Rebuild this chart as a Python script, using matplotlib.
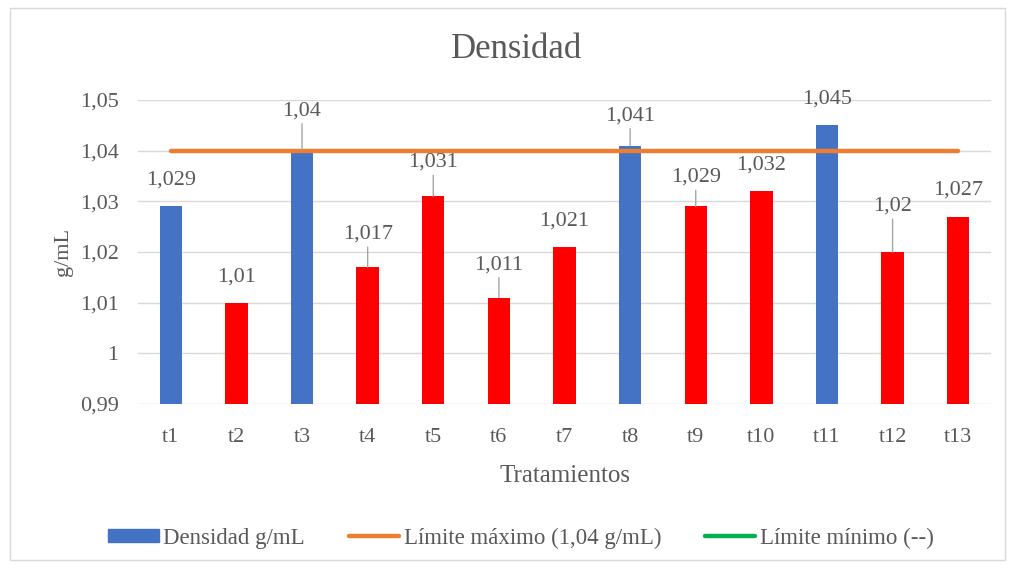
import matplotlib.pyplot as plt
from matplotlib.patches import Rectangle
from matplotlib.lines import Line2D

categories = ["t1", "t2", "t3", "t4", "t5", "t6", "t7", "t8", "t9", "t10", "t11", "t12", "t13"]
densidad = [1.029, 1.010, 1.040, 1.017, 1.031, 1.011, 1.021, 1.041, 1.029, 1.032, 1.045, 1.020, 1.027]
limite_maximo = 1.04
value_labels = ["1,029", "1,01", "1,04", "1,017", "1,031", "1,011", "1,021", "1,041",
                "1,029", "1,032", "1,045", "1,02", "1,027"]
yticks = [0.99, 1.00, 1.01, 1.02, 1.03, 1.04, 1.05]
ytick_labels = ["0,99", "1", "1,01", "1,02", "1,03", "1,04", "1,05"]

BLUE = "#4472C4"
RED = "#FF0000"
ORANGE = "#ED7D31"
GREEN = "#00B050"
TEXT = "#595959"
GRID = "#D9D9D9"

bar_colors = [BLUE, RED, BLUE, RED, RED, RED, RED, BLUE, RED, RED, BLUE, RED, RED]
# label offset above bar top (pixels) and whether a leader line is drawn
label_offsets = [26, 26, 40, 33, 34, 33, 26, 30, 29, 26, 26, 46, 26]
leaders = [False, False, True, True, True, True, False, True, True, False, False, True, False]

plt.rcParams["font.family"] = ["Liberation Serif", "DejaVu Serif"]

fig = plt.figure(figsize=(10.11, 5.68), dpi=100)
fig.patches.append(Rectangle((10 / 1011, 8 / 568), 995 / 1011, 552 / 568,
                             transform=fig.transFigure, fill=False,
                             edgecolor="#D9D9D9", linewidth=1))

ax = fig.add_axes([138 / 1011, 1 - 404 / 568, 853 / 1011, 304 / 568])
x = list(range(len(categories)))
ax.bar(x, densidad, width=0.34, color=bar_colors, bottom=0, zorder=2)
ax.plot([x[0], x[-1]], [limite_maximo, limite_maximo], color=ORANGE, linewidth=3.2,
        solid_capstyle="round", zorder=3)

ax.set_ylim(0.99, 1.05)
ax.set_xlim(-0.5, len(categories) - 0.5)
ax.set_yticks(yticks)
ax.set_yticklabels(ytick_labels)
ax.set_xticks(x)
ax.set_xticklabels(categories)
ax.tick_params(axis="both", length=0, labelsize=16, labelcolor=TEXT)
ax.tick_params(axis="y", pad=14)
ax.tick_params(axis="x", pad=17)
ax.grid(axis="y", color=GRID, linewidth=1, zorder=0)
for side in ["top", "right", "left", "bottom"]:
    ax.spines[side].set_visible(False)

for xi, v, lab, off, lead in zip(x, densidad, value_labels, label_offsets, leaders):
    ax.annotate(lab, (xi, v), xytext=(0, off), textcoords="offset pixels",
                ha="center", va="center", fontsize=16, color=TEXT, zorder=4)
    if lead:
        ax.annotate("", (xi, v), xytext=(0, off - 13), textcoords="offset pixels",
                    arrowprops=dict(arrowstyle="-", color="#A6A6A6", linewidth=1,
                                    shrinkA=0, shrinkB=0), zorder=4)

ax.set_xlabel("Tratamientos", fontsize=18, color=TEXT, labelpad=13)
ax.set_ylabel("g/mL", fontsize=16, color=TEXT, labelpad=5)
fig.text(517 / 1011, 1 - 50 / 568, "Densidad", ha="center", va="center",
         fontsize=25, color=TEXT)

handles = [
    Rectangle((0, 0), 1, 1, color=BLUE),
    Line2D([0], [0], color=ORANGE, linewidth=3.2, solid_capstyle="round"),
    Line2D([0], [0], color=GREEN, linewidth=3.2, solid_capstyle="round"),
]
names = ["Densidad g/mL", "Límite máximo (1,04 g/mL)", "Límite mínimo (--)"]
leg = fig.legend(handles, names, loc="center", bbox_to_anchor=(521 / 1011, 1 - 538 / 568),
                 ncol=3, frameon=False, fontsize=16.5, handlelength=2.2, handleheight=0.5,
                 columnspacing=1.9, handletextpad=0.2)
for t in leg.get_texts():
    t.set_color(TEXT)

fig.savefig("out.png", dpi=100)
